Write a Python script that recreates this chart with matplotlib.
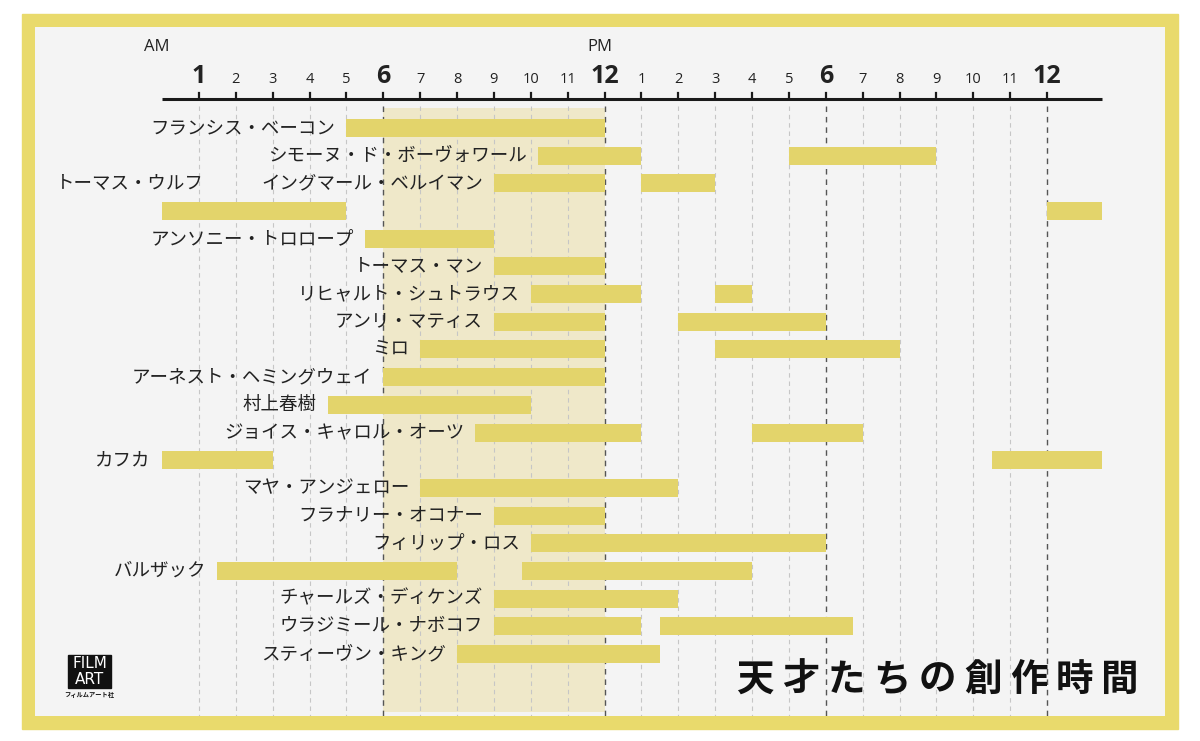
import matplotlib
matplotlib.use('Agg')
import matplotlib.pyplot as plt
from matplotlib.patches import Rectangle

plt.rcParams['font.family'] = ['Noto Sans CJK JP', 'DejaVu Sans']

# writers, top to bottom
names = ['フランシス・ベーコン', 'シモーヌ・ド・ボーヴォワール', 'イングマール・ベルイマン',
         'トーマス・ウルフ', 'アンソニー・トロロープ', 'トーマス・マン',
         'リヒャルト・シュトラウス', 'アンリ・マティス', 'ミロ',
         'アーネスト・ヘミングウェイ', '村上春樹', 'ジョイス・キャロル・オーツ', 'カフカ',
         'マヤ・アンジェロー', 'フラナリー・オコナー', 'フィリップ・ロス', 'バルザック',
         'チャールズ・ディケンズ', 'ウラジミール・ナボコフ', 'スティーヴン・キング']

# working sessions in hours after midnight (24+ = next day)
first_start = [5, 10.2, 9, 0, 5.5, 9, 10, 9, 7, 6, 4.5, 8.5, 0, 7, 9, 10, 1.5, 9, 9, 8]
first_end = [12, 13, 12, 5, 9, 12, 13, 12, 12, 12, 10, 13, 3, 14, 12, 18, 8, 14, 13, 13.5]
second_start = [None, 17, 13, 24, None, None, 15, 14, 15, None, None, 16, 22.5,
                None, None, None, 9.75, None, 13.5, None]
second_end = [None, 21, 15, 25.5, None, None, 16, 18, 20, None, None, 19, 25.5,
              None, None, None, 16, None, 18.75, None]

hours = list(range(1, 25))
hour_labels = [str(h) for h in range(1, 13)] + [str(h) for h in range(1, 13)]
big_hours = [1, 6, 12, 18, 24]

bar_color = '#e3d46b'
frame_color = '#e9da6c'
shade_color = '#efe8c9'
bg_color = '#f4f4f4'
text_color = '#222222'

W, H = 1200, 741
fig = plt.figure(figsize=(12, 7.41), dpi=100, facecolor='white')

# yellow frame
fig.patches.append(Rectangle((22 / W, 1 - 729 / H), 1156 / W, 715 / H,
                             transform=fig.transFigure, color=frame_color, zorder=-5))

ax = fig.add_axes([35 / W, 1 - 716 / H, 1130 / W, 689 / H])
ax.set_zorder(1)
ax.set_facecolor(bg_color)
ax.set_xlim(-3.445, 27.2)
ax.set_ylim(21.24, -3.65)
ax.axis('off')
ax.add_patch(Rectangle((-3.445, -3.65), 30.645, 24.89, color=bg_color, zorder=-1))

# morning band
ax.fill_between([6, 12], -0.72, 21.1, color=shade_color, zorder=0, lw=0)

# grid
for h in hours:
    major = h % 6 == 0
    ax.plot([h, h], [-0.8, 21.24], color='#555555' if major else '#c6c6c6',
            lw=1.0 if major else 0.8, ls=(0, (4, 3.5)), zorder=1)

# time axis
ax.plot([0, 25.5], [-1.05, -1.05], color='#1a1a1a', lw=2.2, solid_capstyle='butt', zorder=3)
for h, lab in zip(hours, hour_labels):
    ax.plot([h, h], [-1.05, -1.27], color='#1a1a1a', lw=1.6, zorder=3)
    big = h in big_hours
    ax.text(h, -1.63, lab, ha='center', va='baseline', family=['Open Sans', 'DejaVu Sans'],
            fontsize=18 if big else 10.5, fontweight='bold' if big else 'normal',
            color=text_color)
ax.text(-0.14, -2.91, 'AM', ha='center', va='center', family=['Open Sans', 'DejaVu Sans'],
        fontsize=12, color=text_color)
ax.text(11.88, -2.91, 'PM', ha='center', va='center', family=['Open Sans', 'DejaVu Sans'],
        fontsize=12, color=text_color)

# bars and names
for i, name in enumerate(names):
    ax.barh(i, first_end[i] - first_start[i], left=first_start[i], height=0.65,
            color=bar_color, zorder=2)
    if second_start[i] is not None:
        ax.barh(i, second_end[i] - second_start[i], left=second_start[i], height=0.65,
                color=bar_color, zorder=2)
    if name == 'トーマス・ウルフ':
        # this label sits one row above its bar in the original
        ax.text(1.14, i - 1, name, ha='right', va='center', fontsize=13.3,
                color=text_color, zorder=4)
    else:
        ax.text(first_start[i] - 0.3, i, name, ha='right', va='center', fontsize=13.3,
                color=text_color, zorder=4)

# title, spaced out
title = '天才たちの創作時間'
for k, ch in enumerate(title):
    fig.text((755 + k * 45.6) / W, 1 - 679 / H, ch, ha='center', va='center',
             fontsize=27, fontweight='bold', color='#111111', zorder=6)

# publisher mark
fig.patches.append(Rectangle((68 / W, 1 - 688 / H), 43 / W, 33 / H,
                             transform=fig.transFigure, color='#111111', zorder=5))
fig.text(89.5 / W, 1 - 663 / H, 'FILM', ha='center', va='center', color='white',
         fontsize=11, family=['DejaVu Sans'], zorder=6)
fig.text(89.5 / W, 1 - 679 / H, 'ART', ha='center', va='center', color='white',
         fontsize=11, family=['DejaVu Sans'], zorder=6)
fig.text(89.5 / W, 1 - 694 / H, 'フィルムアート社', ha='center', va='center', color='#111111',
         fontsize=4.5, fontweight='bold', zorder=6)

fig.savefig('out.png', dpi=100, facecolor='white')
